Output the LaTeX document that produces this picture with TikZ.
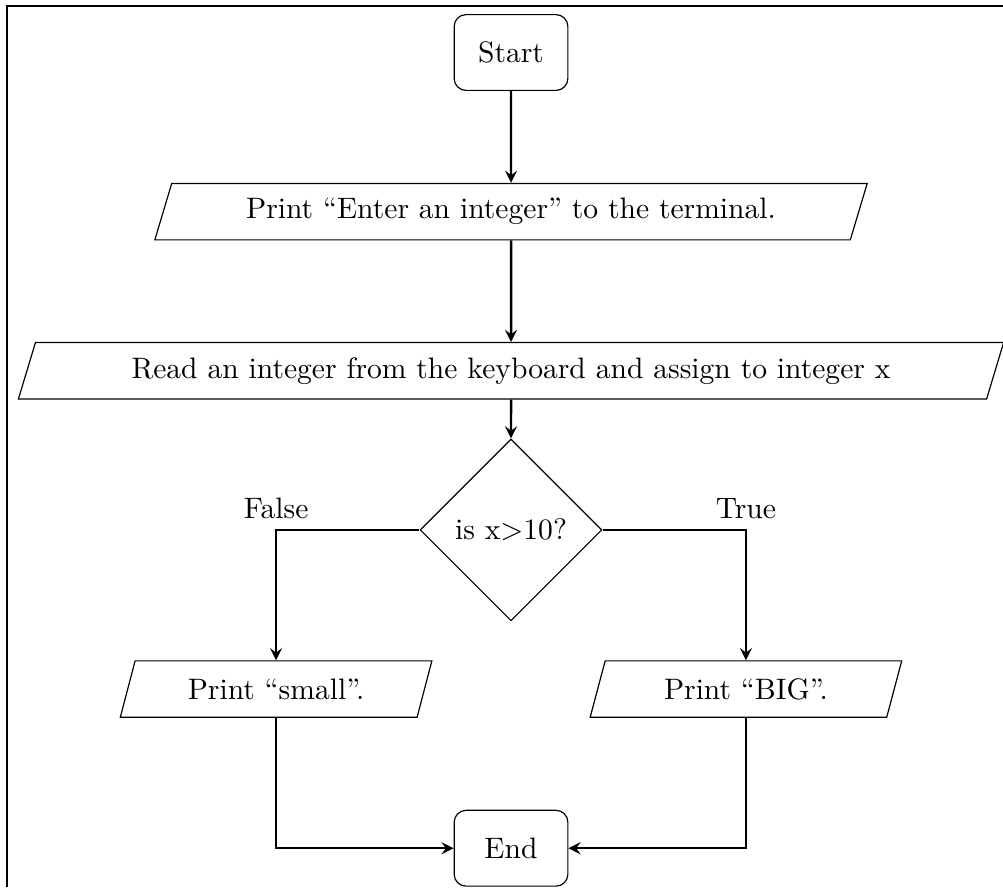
\documentclass[tikz,border=0pt]{standalone}
\usetikzlibrary{shapes.geometric,arrows,positioning}

\begin{document}
\begin{tikzpicture}[node distance=1.89cm,on grid,auto,>=stealth,
	startstop/.style={rectangle,rounded corners,draw,minimum width=1.35cm,minimum height=0.9cm},
	io/.style={trapezium,trapezium left angle=70,trapezium right angle=110,trapezium stretches body,draw,minimum height=0.67cm},
	decision/.style={diamond,aspect=1,draw,minimum width=2.16cm,minimum height=2.16cm},
	flow/.style={thick,->}]
	\useasboundingbox (-6.069,-9.911) rectangle (5.843,0.6235);
	\draw[thick] (-5.986,-9.911) |- (5.843,0.552);
	\node[startstop] (start) {Start};
	\node[io,minimum width=8.46cm] (prompt) [below of=start] {Print ``Enter an integer'' to the terminal.};
	\node[io,minimum width=11.7cm] (read) [below of=prompt] {Read an integer from the keyboard and assign to integer x};
	\node[decision] (check) [below of=read] {is x$>$10?};
	\node[io,minimum width=3.7cm] (small) [below left=1.89cm and 2.79cm of check] {Print ``small''.};
	\node[io,minimum width=3.7cm] (big) [below right=1.89cm and 2.79cm of check] {Print ``BIG''.};
	\node[startstop] (stop) [below=3.78cm of check] {End};
	\path[flow]
	(start) edge (prompt)
	(prompt) edge (read)
	(read) edge (check);
	\draw[flow] (check) -| node[pos=0.5,above] {False} (small);
	\draw[flow] (check) -| node[pos=0.5,above] {True} (big);
	\draw[flow] (small) |- (stop);
	\draw[flow] (big) |- (stop);
\end{tikzpicture}
\end{document}
